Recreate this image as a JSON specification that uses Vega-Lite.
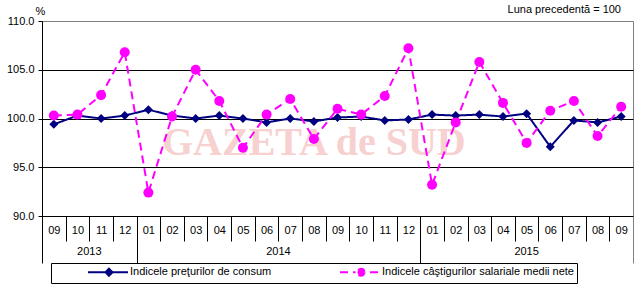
{
  "$schema": "https://vega.github.io/schema/vega-lite/v6.json",
  "width": 591,
  "height": 195,
  "autosize": {"type": "none"},
  "padding": {"left": 42, "top": 21, "right": 6, "bottom": 74},
  "background": "white",
  "config": {"view": {"stroke": "#808080", "strokeWidth": 1}, "font": "Liberation Sans"},
  "data": {"values": [
    {"m": "2013_09", "s": "Indicele preţurilor de consum", "v": 99.4},
    {"m": "2013_10", "s": "Indicele preţurilor de consum", "v": 100.3},
    {"m": "2013_11", "s": "Indicele preţurilor de consum", "v": 100.0},
    {"m": "2013_12", "s": "Indicele preţurilor de consum", "v": 100.3},
    {"m": "2014_01", "s": "Indicele preţurilor de consum", "v": 100.9},
    {"m": "2014_02", "s": "Indicele preţurilor de consum", "v": 100.3},
    {"m": "2014_03", "s": "Indicele preţurilor de consum", "v": 100.0},
    {"m": "2014_04", "s": "Indicele preţurilor de consum", "v": 100.3},
    {"m": "2014_05", "s": "Indicele preţurilor de consum", "v": 100.0},
    {"m": "2014_06", "s": "Indicele preţurilor de consum", "v": 99.6},
    {"m": "2014_07", "s": "Indicele preţurilor de consum", "v": 100.0},
    {"m": "2014_08", "s": "Indicele preţurilor de consum", "v": 99.7},
    {"m": "2014_09", "s": "Indicele preţurilor de consum", "v": 100.1},
    {"m": "2014_10", "s": "Indicele preţurilor de consum", "v": 100.2},
    {"m": "2014_11", "s": "Indicele preţurilor de consum", "v": 99.8},
    {"m": "2014_12", "s": "Indicele preţurilor de consum", "v": 99.9},
    {"m": "2015_01", "s": "Indicele preţurilor de consum", "v": 100.4},
    {"m": "2015_02", "s": "Indicele preţurilor de consum", "v": 100.3},
    {"m": "2015_03", "s": "Indicele preţurilor de consum", "v": 100.4},
    {"m": "2015_04", "s": "Indicele preţurilor de consum", "v": 100.2},
    {"m": "2015_05", "s": "Indicele preţurilor de consum", "v": 100.5},
    {"m": "2015_06", "s": "Indicele preţurilor de consum", "v": 97.1},
    {"m": "2015_07", "s": "Indicele preţurilor de consum", "v": 99.8},
    {"m": "2015_08", "s": "Indicele preţurilor de consum", "v": 99.6},
    {"m": "2015_09", "s": "Indicele preţurilor de consum", "v": 100.2},
    {"m": "2013_09", "s": "Indicele câştigurilor salariale medii nete", "v": 100.3},
    {"m": "2013_10", "s": "Indicele câştigurilor salariale medii nete", "v": 100.4},
    {"m": "2013_11", "s": "Indicele câştigurilor salariale medii nete", "v": 102.4},
    {"m": "2013_12", "s": "Indicele câştigurilor salariale medii nete", "v": 106.8},
    {"m": "2014_01", "s": "Indicele câştigurilor salariale medii nete", "v": 92.4},
    {"m": "2014_02", "s": "Indicele câştigurilor salariale medii nete", "v": 100.2},
    {"m": "2014_03", "s": "Indicele câştigurilor salariale medii nete", "v": 105.0},
    {"m": "2014_04", "s": "Indicele câştigurilor salariale medii nete", "v": 101.8},
    {"m": "2014_05", "s": "Indicele câştigurilor salariale medii nete", "v": 97.0},
    {"m": "2014_06", "s": "Indicele câştigurilor salariale medii nete", "v": 100.4},
    {"m": "2014_07", "s": "Indicele câştigurilor salariale medii nete", "v": 102.0},
    {"m": "2014_08", "s": "Indicele câştigurilor salariale medii nete", "v": 97.9},
    {"m": "2014_09", "s": "Indicele câştigurilor salariale medii nete", "v": 101.0},
    {"m": "2014_10", "s": "Indicele câştigurilor salariale medii nete", "v": 100.4},
    {"m": "2014_11", "s": "Indicele câştigurilor salariale medii nete", "v": 102.3},
    {"m": "2014_12", "s": "Indicele câştigurilor salariale medii nete", "v": 107.2},
    {"m": "2015_01", "s": "Indicele câştigurilor salariale medii nete", "v": 93.2},
    {"m": "2015_02", "s": "Indicele câştigurilor salariale medii nete", "v": 99.6},
    {"m": "2015_03", "s": "Indicele câştigurilor salariale medii nete", "v": 105.8},
    {"m": "2015_04", "s": "Indicele câştigurilor salariale medii nete", "v": 101.6},
    {"m": "2015_05", "s": "Indicele câştigurilor salariale medii nete", "v": 97.5},
    {"m": "2015_06", "s": "Indicele câştigurilor salariale medii nete", "v": 100.8},
    {"m": "2015_07", "s": "Indicele câştigurilor salariale medii nete", "v": 101.8},
    {"m": "2015_08", "s": "Indicele câştigurilor salariale medii nete", "v": 98.2},
    {"m": "2015_09", "s": "Indicele câştigurilor salariale medii nete", "v": 101.2}
  ]},
  "layer": [
    {
      "encoding": {
        "x": {"field": "m", "type": "ordinal", "title": null,
          "scale": {"type": "band", "paddingInner": 0, "paddingOuter": 0},
          "axis": {"orient": "bottom", "labelExpr": "slice(datum.label, 5)", "tickBand": "extent", "tickSize": 25, "tickColor": "black", "domainColor": "black", "labelPadding": -17, "labelFont": "Liberation Sans", "labelFontSize": 11, "labelColor": "black", "labelAngle": 0, "labelAlign": "center", "grid": false, "labelBaseline": "top"}},
        "y": {"field": "v", "type": "quantitative", "title": "%",
          "scale": {"domain": [90, 110], "nice": false, "zero": false},
          "axis": {"values": [90, 95, 100, 105, 110], "format": ".1f", "tickSize": 4, "tickColor": "black", "domainColor": "black", "labelPadding": 4, "labelFont": "Liberation Sans", "labelFontSize": 11, "labelColor": "black", "grid": true, "gridColor": {"condition": {"test": "datum.value == 110", "value": "#808080"}, "value": "black"}, "gridOpacity": 1, "titleAngle": 0, "titleX": -2, "titleY": -10, "titleAlign": "center", "titleBaseline": "middle", "titleFont": "Liberation Sans", "titleFontSize": 11, "titleFontWeight": "normal", "titleColor": "black"}}
      },
      "layer": [
        {
          "data": {"values": [{"t": "GAZETA de SUD", "m": "2014_08", "v": 97.5}]},
          "mark": {"type": "text", "font": "Liberation Serif", "fontWeight": "bold", "fontSize": 40, "color": "#f7d0d0", "baseline": "middle", "align": "center"},
          "encoding": {
            "text": {"field": "t"}
          }
        },
        {
          "mark": {"type": "line", "strokeWidth": 2},
          "encoding": {
            "color": {"field": "s", "type": "nominal",
              "scale": {"domain": ["Indicele preţurilor de consum", "Indicele câştigurilor salariale medii nete"], "range": ["#000080", "#ff00ff"]},
              "legend": {"orient": "none", "legendX": 9, "legendY": 242, "direction": "horizontal", "columns": 2, "title": null,
                "padding": 3, "strokeColor": "black", "fillColor": "white", "cornerRadius": 0,
                "labelFont": "Liberation Sans", "labelFontSize": 11, "labelColor": "black", "labelLimit": 400,
                "symbolSize": 100, "symbolStrokeWidth": 2, "symbolOffset": 48, "labelOffset": 16, "columnPadding": 34,
                "labelExpr": "datum.label == 'Indicele preţurilor de consum' ? datum.label : datum.label + '\u00a0\u00a0\u00a0\u00a0\u00a0\u00a0\u00a0\u00a0\u00a0\u00a0\u00a0'",
                "encode": {"symbols": {"update": {
                  "shape": {"signal": "datum.value == 'Indicele preţurilor de consum' ? 'M-4,0H4M0.2,-0.7L0.9,0L0.2,0.7L-0.5,0Z' : 'M-4,0H-0.9M2,0H4M0.9,0A0.7,0.7,0,1,1,-0.5,0A0.7,0.7,0,1,1,0.9,0Z'"},
                  "fill": {"signal": "datum.value == 'Indicele preţurilor de consum' ? '#000080' : '#ff00ff'"},
                  "stroke": {"signal": "datum.value == 'Indicele preţurilor de consum' ? '#000080' : '#ff00ff'"},
                  "size": {"value": 100},
                  "opacity": {"value": 1},
                  "strokeDash": {"value": []}
                }}}
              }},
            "strokeDash": {"field": "s", "type": "nominal",
              "scale": {"domain": ["Indicele preţurilor de consum", "Indicele câştigurilor salariale medii nete"], "range": [[1, 0], [8, 5]]},
              "legend": null}
          }
        },
        {
          "transform": [{"filter": "datum.s == 'Indicele preţurilor de consum'"}],
          "mark": {"type": "point", "filled": true, "opacity": 1, "shape": "diamond", "size": 81, "color": "#000080"}
        },
        {
          "transform": [{"filter": "datum.s != 'Indicele preţurilor de consum'"}],
          "mark": {"type": "point", "filled": true, "opacity": 1, "shape": "circle", "size": 100, "color": "#ff00ff"}
        }
      ]
    },
    {
      "encoding": {
        "x": {"field": "mid", "type": "quantitative", "scale": {"domain": [0, 25], "nice": false, "zero": false},
          "axis": {"orient": "bottom", "values": [0, 4, 16, 25], "tickSize": 47, "tickColor": {"condition": {"test": "datum.value == 25", "value": "#808080"}, "value": "black"}, "labels": false, "domain": false, "grid": false, "title": null}},
        "text": {"field": "y"}
      },
      "layer": [
        {
          "data": {"values": [{"y": "2013", "mid": 2}, {"y": "2014", "mid": 10}, {"y": "2015", "mid": 20.5}]},
          "mark": {"type": "text", "font": "Liberation Sans", "fontSize": 11, "color": "black", "dy": 36, "baseline": "middle", "align": "center"},
          "encoding": {"y": {"datum": 90, "type": "quantitative", "title": "%"}}
        },
        {
          "data": {"values": [{"y": "Luna precedentă = 100", "mid": 25}]},
          "mark": {"type": "text", "font": "Liberation Sans", "fontSize": 11, "color": "black", "dy": -11, "dx": -12, "baseline": "middle", "align": "right"},
          "encoding": {"y": {"datum": 110, "type": "quantitative", "title": "%"}}
        }
      ]
    }
  ],
  "resolve": {"scale": {"x": "independent"}, "axis": {"x": "independent"}}
}
